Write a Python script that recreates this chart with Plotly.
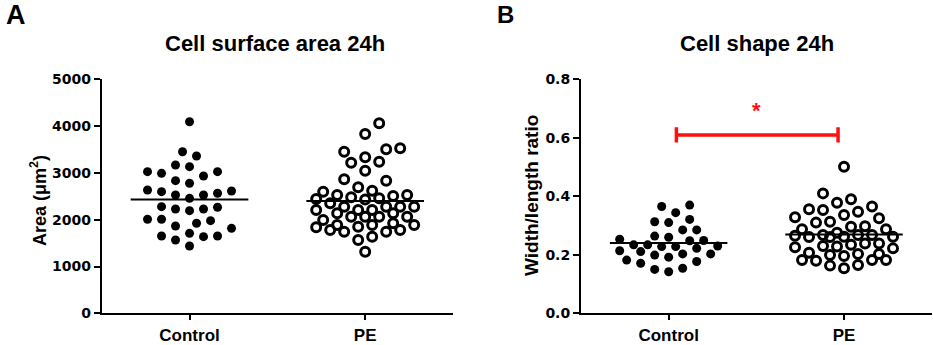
import numpy as np
import plotly.graph_objects as go

# ---------------- data ----------------
groups = ["Control", "PE"]

area_control = [4094, 3453, 3361, 3168, 3133, 3026, 2991, 2934, 3026, 2834, 2778,
                2635, 2599, 2528, 2528, 2564, 2613, 2457, 2278, 2229, 2193, 2229,
                2265, 2009, 1980, 1866, 1816, 1923, 2009, 1652, 1638, 1438, 1566,
                1652, 1709]
area_pe = [4060, 3831, 3526, 3453, 3504, 3333, 3218, 3240, 3047, 2834, 2863, 2692,
           2620, 2599, 2506, 2528, 2478, 2528, 2440, 2460, 2430,
           2278, 2207, 1838, 2278, 2137, 1994, 1851, 1744, 2207, 2064, 1887, 1744,
           2350, 2207, 2064, 1923, 1780, 1637, 1316, 2278, 2064, 1887, 1566,
           2278, 2064, 1780, 2137, 1887]

ratio_control = [0.344, 0.365, 0.370, 0.313, 0.310, 0.321, 0.285, 0.285, 0.264,
                 0.253, 0.248, 0.249, 0.260, 0.214, 0.228, 0.222, 0.234, 0.228,
                 0.234, 0.230, 0.211, 0.177, 0.203, 0.199, 0.192, 0.203, 0.182,
                 0.171, 0.154, 0.142, 0.150]
ratio_pe = [0.501, 0.410, 0.378, 0.390, 0.347, 0.353, 0.356, 0.365, 0.328, 0.336,
            0.313, 0.310, 0.325, 0.298, 0.296, 0.268, 0.268, 0.287, 0.287,
            0.262, 0.261, 0.268, 0.275, 0.265, 0.261, 0.262,
            0.234, 0.222, 0.228, 0.239, 0.226, 0.230, 0.239,
            0.203, 0.196, 0.203, 0.199, 0.207,
            0.182, 0.182, 0.180, 0.182,
            0.165, 0.154, 0.163]

area_ticks = [0, 1000, 2000, 3000, 4000, 5000]
ratio_ticks = [0.0, 0.2, 0.4, 0.6, 0.8]
sig_level = 0.61
sig_label = "*"

# ---------------- geometry ----------------
W, H = 933, 345
XA = (101.7, 453.0)
XB = (581.0, 931.7)
YP = (79.3, 313.3)   # top, bottom in px
XR = [-0.5, 1.5]


def swarm(values, center, ymax, xpx, dxm, dym, maxw, step=7.0):
    """Greedy beeswarm on a 7 px grid, limited to +-maxw px (overlap allowed there)."""
    vals = np.asarray(values, dtype=float)
    px_per_x = (xpx[1] - xpx[0]) / (XR[1] - XR[0])
    px_per_y = (YP[1] - YP[0]) / ymax
    order = np.argsort(vals, kind="stable")
    placed = []
    xs = np.zeros(len(vals))
    flip = 1
    nmax = int(maxw // step)
    for i in order:
        yv = vals[i] * px_per_y
        cands = [0]
        for j in range(1, nmax + 1):
            cands += [flip * j, -flip * j]
        flip = -flip
        best, best_score = 0.0, -1.0
        chosen = None
        for c in cands:
            xo = c * step
            if placed:
                score = min(np.hypot((xo - p) / dxm, (yv - q) / dym) for p, q in placed)
            else:
                score = 9.0
            if score >= 1.0:
                chosen = xo
                break
            if score > best_score:
                best, best_score = xo, score
        if chosen is None:
            chosen = best
        placed.append((chosen, yv))
        xs[i] = center + chosen / px_per_x
    return xs


fig = go.Figure()

panels = [
    (area_control, area_pe, "x", "y", 5000, XA, 43, 50),
    (ratio_control, ratio_pe, "x2", "y2", 0.8, XB, 50, 50),
]
for ctrl, pe, xa, ya, ymax, xpx, wc, wp in panels:
    xc = swarm(ctrl, 0, ymax, xpx, 12, 12, wc)
    xp = swarm(pe, 1, ymax, xpx, 13, 13, wp)
    fig.add_trace(go.Scatter(x=xc, y=ctrl, mode="markers", xaxis=xa, yaxis=ya,
                             marker=dict(symbol="circle", size=9, color="black"),
                             showlegend=False, hoverinfo="skip"))
    fig.add_trace(go.Scatter(x=xp, y=pe, mode="markers", xaxis=xa, yaxis=ya,
                             marker=dict(symbol="circle-open", size=9, color="black",
                                         line=dict(width=3, color="black")),
                             showlegend=False, hoverinfo="skip"))
    for g, vals in enumerate([ctrl, pe]):
        m = float(np.mean(vals))
        fig.add_trace(go.Scatter(x=[g - 0.335, g + 0.335], y=[m, m], mode="lines",
                                 xaxis=xa, yaxis=ya, line=dict(color="black", width=2),
                                 showlegend=False, hoverinfo="skip"))

# significance bar on panel B
red = "#ff1010"
fig.add_trace(go.Scatter(x=[0.044, 0.966], y=[sig_level, sig_level], mode="lines",
                         xaxis="x2", yaxis="y2", line=dict(color=red, width=3.5),
                         showlegend=False, hoverinfo="skip"))
for xe in (0.044, 0.966):
    fig.add_trace(go.Scatter(x=[xe, xe], y=[sig_level - 0.026, sig_level + 0.026],
                             mode="lines", xaxis="x2", yaxis="y2",
                             line=dict(color=red, width=3.5),
                             showlegend=False, hoverinfo="skip"))


def dom_x(px):
    return [px[0] / W, px[1] / W]


ydom = [(H - YP[1]) / H, (H - YP[0]) / H]

tick_font = dict(family="DejaVu Sans", size=14, color="black", weight="bold")
cat_font = dict(family="Liberation Sans, Arial", size=17, color="black", weight="bold")

common_y = dict(showgrid=False, zeroline=False, showline=True, linewidth=2,
                linecolor="black", ticks="outside", tickwidth=2, ticklen=6,
                tickcolor="black", tickfont=tick_font, fixedrange=True,
                automargin=False)
common_x = dict(showgrid=False, zeroline=False, showline=True, linewidth=2,
                linecolor="black", ticks="outside", tickwidth=2, ticklen=5,
                tickcolor="black", tickfont=cat_font, range=XR,
                tickvals=[0, 1], ticktext=groups, fixedrange=True,
                automargin=False)

fig.update_layout(
    template="none",
    width=W, height=H, autosize=False,
    margin=dict(l=0, r=0, t=0, b=0, pad=0, autoexpand=False),
    paper_bgcolor="white", plot_bgcolor="white",
    xaxis=dict(domain=dom_x(XA), anchor="y", **common_x),
    yaxis=dict(domain=ydom, anchor="x", range=[0, 5000], tickvals=area_ticks, **common_y),
    xaxis2=dict(domain=dom_x(XB), anchor="y2", **common_x),
    yaxis2=dict(domain=ydom, anchor="x2", range=[0, 0.8], tickvals=ratio_ticks,
                tickformat=".1f", **common_y),
)

title_font = dict(family="Liberation Sans, Arial", size=22, color="black", weight="bold")
ylab_font = dict(family="Liberation Sans, Arial", size=18, color="black", weight="bold")


def ann(text, x, y, font, angle=0):
    fig.add_annotation(text=text, x=x / W, y=1 - y / H, xref="paper", yref="paper",
                       showarrow=False, font=font, textangle=angle,
                       xanchor="center", yanchor="middle")


ann("A", 15.5, 15, dict(family="Liberation Sans, Arial", size=27, color="black", weight="bold"))
ann("B", 505, 15, dict(family="Liberation Sans, Arial", size=24, color="black", weight="bold"))
ann("Cell surface area 24h", 275, 44, title_font)
ann("Cell shape 24h", 757, 43, title_font)
ann("Area (μm<sup>2</sup>)", 38, 201, ylab_font, -90)
ann("Width/length ratio", 531, 196, dict(family="Liberation Sans, Arial", size=19,
                                         color="black", weight="bold"), -90)
fig.add_annotation(text=sig_label, x=0.5, y=0.695, xref="x2", yref="y2",
                   showarrow=False, font=dict(family="Liberation Sans, Arial", size=22,
                                              color=red, weight="bold"),
                   xanchor="center", yanchor="middle")

fig.write_html("out.html", config={"responsive": False, "displayModeBar": False},
               post_script="document.body.style.margin='0';"
                           "document.body.style.overflow='hidden';")
